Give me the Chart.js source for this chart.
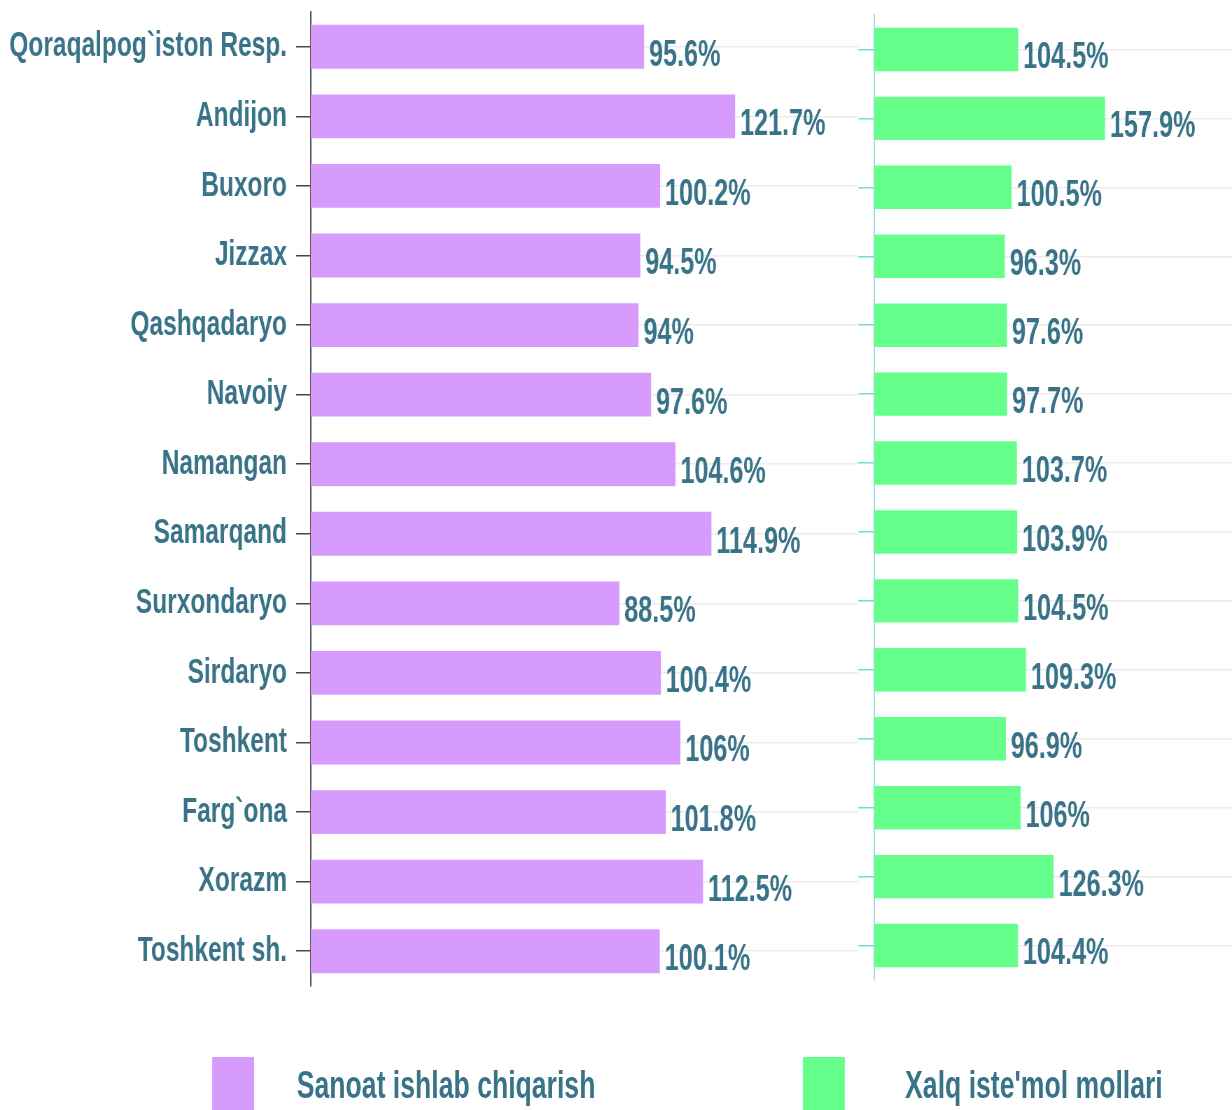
<!DOCTYPE html>
<html>
<head>
<meta charset="utf-8">
<script src="https://cdn.jsdelivr.net/npm/chart.js@4"></script>
<style>
  body { margin: 0; background: #fff; width: 1232px; height: 1110px; overflow: hidden; }
  /* the reference uses a tall, narrow bold face: draw at 1/0.7 width and squeeze */
  #stage { position: absolute; left: 0; top: 0; width: 1760px; height: 1110px; transform: scaleX(0.7); transform-origin: 0 0; }
  #left-wrap { position: absolute; left: 0; top: 0; width: 1243px; height: 1000px; }
  #right-wrap { position: absolute; left: 1226px; top: 0; width: 534px; height: 1000px; }
  .legend-box { position: absolute; top: 1057px; width: 60px; height: 60px; }
  .legend-text { position: absolute; top: 1064px; white-space: nowrap; font: bold 38px 'Liberation Sans', Arial, sans-serif; color: #387388; }
</style>
</head>
<body>
<div id="stage">
  <div id="left-wrap"><canvas id="leftChart"></canvas></div>
  <div id="right-wrap"><canvas id="rightChart"></canvas></div>

  <div class="legend-box" style="left:303px;background:#d69bfc"></div>
  <div class="legend-text" style="left:424px">Sanoat ishlab chiqarish</div>
  <div class="legend-box" style="left:1147px;background:#66ff8c"></div>
  <div class="legend-text" style="left:1293px">Xalq iste'mol mollari</div>
</div>

<script>
const FONT = "'Liberation Sans', Arial, sans-serif";
const TEXT_COLOR = '#387388';

// Data
const regions = [
  'Qoraqalpog`iston Resp.', 'Andijon', 'Buxoro', 'Jizzax', 'Qashqadaryo', 'Navoiy', 'Namangan',
  'Samarqand', 'Surxondaryo', 'Sirdaryo', 'Toshkent', 'Farg`ona', 'Xorazm', 'Toshkent sh.'
];
const sanoat = [95.6, 121.7, 100.2, 94.5, 94, 97.6, 104.6, 114.9, 88.5, 100.4, 106, 101.8, 112.5, 100.1];
const xalq = [104.5, 157.9, 100.5, 96.3, 97.6, 97.7, 103.7, 103.9, 104.5, 109.3, 96.9, 106, 126.3, 104.4];
const seriesNames = ['Sanoat ishlab chiqarish', "Xalq iste'mol mollari"];

// draws "95.6%" after each bar
const valueLabels = {
  id: 'valueLabels',
  afterDatasetsDraw(chart) {
    const ctx = chart.ctx;
    const ds = chart.data.datasets[0];
    const meta = chart.getDatasetMeta(0);
    ctx.save();
    ctx.font = 'bold 36px ' + FONT;
    ctx.fillStyle = TEXT_COLOR;
    ctx.textBaseline = 'middle';
    ctx.textAlign = 'left';
    meta.data.forEach((bar, i) => {
      ctx.fillText(ds.data[i] + '%', bar.x + 7, bar.y + 9);
    });
    ctx.restore();
  }
};

function makeChart(id, values, color, xMin, xMax, opts) {
  const ctx = document.getElementById(id).getContext('2d');
  return new Chart(ctx, {
    type: 'bar',
    data: {
      labels: regions,
      datasets: [{
        label: opts.label,
        data: values,
        backgroundColor: color,
        categoryPercentage: 1,
        barPercentage: 0.63
      }]
    },
    options: {
      indexAxis: 'y',
      responsive: true,
      maintainAspectRatio: false,
      animation: false,
      layout: { padding: opts.padding },
      plugins: { legend: { display: false }, tooltip: { enabled: false } },
      scales: {
        x: { display: false, min: xMin, max: xMax },
        y: {
          afterFit: (scale) => {
            scale.width = opts.axisWidth;
            scale.paddingTop = 0;
            scale.paddingBottom = 0;
          },
          grid: { offset: false, color: '#ececec', lineWidth: 1.5, tickColor: opts.tickColor, tickLength: opts.tickLength },
          border: { color: opts.borderColor, width: 2 },
          ticks: {
            display: opts.showLabels,
            padding: 13,
            color: TEXT_COLOR,
            font: { family: FONT, size: 35, weight: 'bold' }
          }
        }
      }
    },
    plugins: [valueLabels]
  });
}

makeChart('leftChart', sanoat, '#d69bfc', 0, 157, {
  label: seriesNames[0], axisWidth: 444, showLabels: true,
  tickColor: '#444', tickLength: 21, borderColor: '#555',
  padding: { top: 12, right: 17, bottom: 14, left: 0 }
});
makeChart('rightChart', xalq, '#66ff8c', 16, 236, {
  label: seriesNames[1], axisWidth: 23, showLabels: false,
  tickColor: '#7fd3dc', tickLength: 23, borderColor: '#9adbe6',
  padding: { top: 15, right: 0, bottom: 20, left: 0 }
});
</script>
</body>
</html>
